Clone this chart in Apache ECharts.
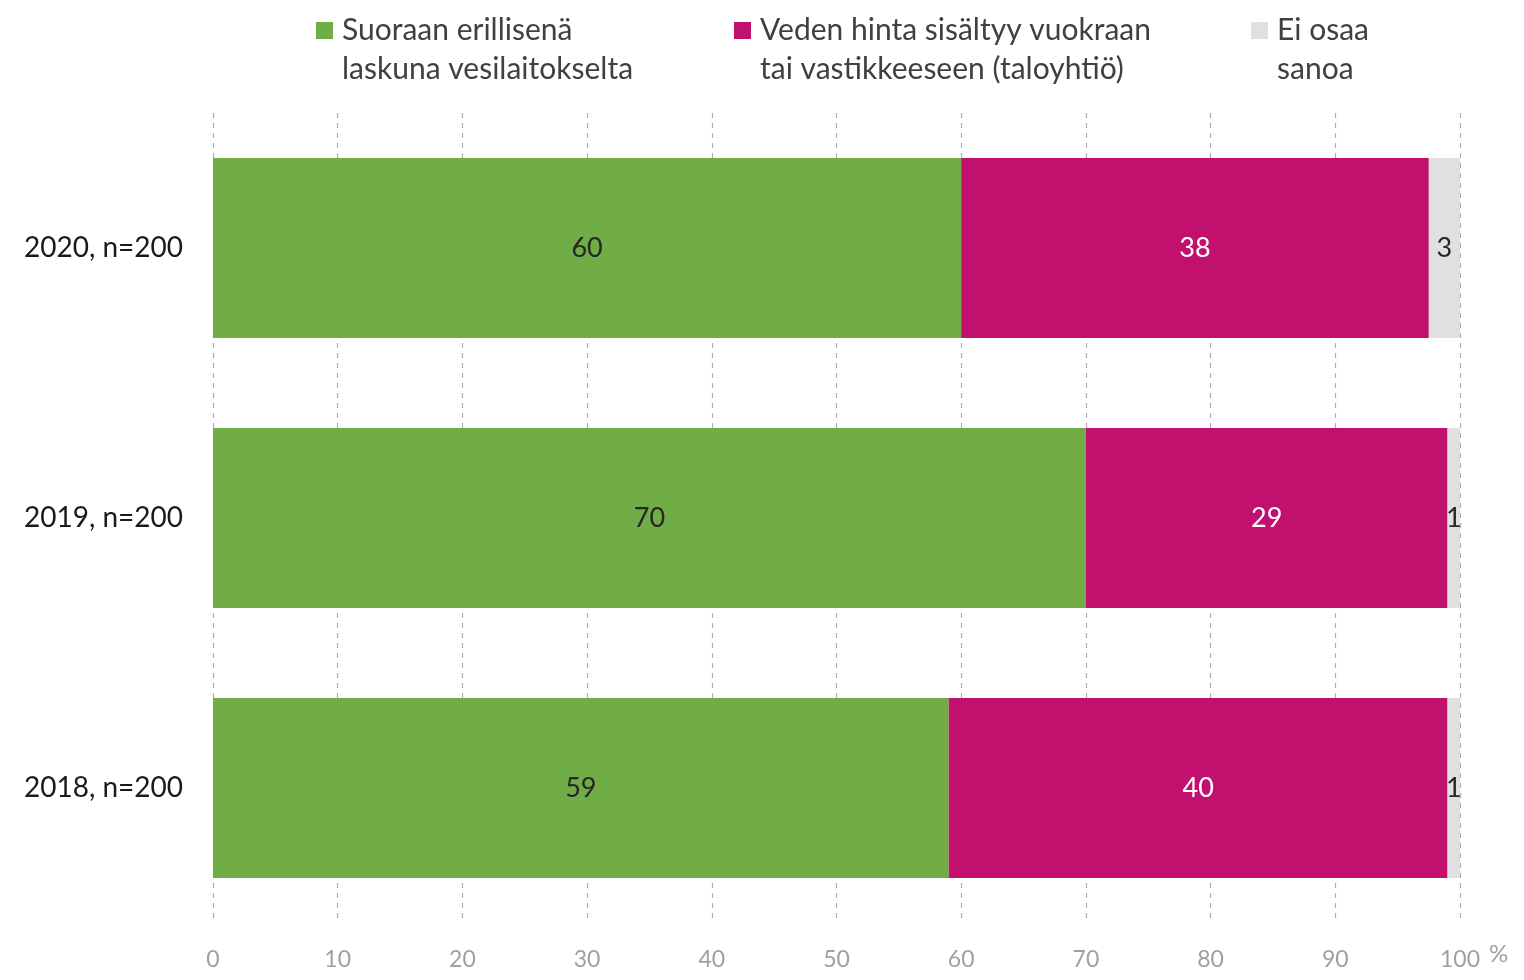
<!DOCTYPE html>
<html>
<head>
<meta charset="utf-8">
<script src="https://cdn.jsdelivr.net/npm/echarts@6/dist/echarts.min.js"></script>
<style>
  html, body { margin: 0; padding: 0; background: #ffffff; }
  #chart { width: 1524px; height: 980px; }
</style>
</head>
<body>
<div id="chart"></div>
<script>
const categories = ['2018, n=200', '2019, n=200', '2020, n=200'];
const seriesNames = [
  'Suoraan erillisenä\nlaskuna vesilaitokselta',
  'Veden hinta sisältyy vuokraan\ntai vastikkeeseen (taloyhtiö)',
  'Ei osaa\nsanoa'
];
const directBill = [59, 70, 60];
const includedInRent = [40, 29, 37.5];
const dontKnow = [1, 1, 2.5];
const xTicks = [0, 10, 20, 30, 40, 50, 60, 70, 80, 90, 100];

const FONT = 'Lato, "Noto Sans", sans-serif';
const colors = ['#70AD47', '#C2106F', '#E0E0E0'];
const labelColors = ['#262626', '#ffffff', '#262626'];
const values = [directBill, includedInRent, dontKnow];

const chart = echarts.init(document.getElementById('chart'), null, { renderer: 'canvas' });

const legendLefts = [316, 734, 1251];
// square marker at the top-left, with an invisible point extending the box so the
// marker lines up with the first line of the two-line legend text
const legendIcon = 'path://M0,0L17,0L17,17L0,17ZM21,56L21,56';

const option = {
  backgroundColor: '#ffffff',
  animation: false,
  textStyle: { fontFamily: FONT },
  legend: seriesNames.map((name, i) => ({
    data: [name],
    left: legendLefts[i],
    top: 11,
    padding: 0,
    itemWidth: 21,
    itemHeight: 56,
    itemGap: 0,
    icon: legendIcon,
    selectedMode: false,
    textStyle: {
      fontFamily: FONT,
      fontSize: 30,
      color: '#404040',
      lineHeight: 39
    }
  })),
  grid: { left: 213, right: 64, top: 113, bottom: 57, containLabel: false },
  xAxis: {
    type: 'value',
    min: 0,
    max: 100,
    interval: 10,
    axisLine: { show: false },
    axisTick: { show: false },
    axisLabel: {
      color: '#A0A0A0',
      fontSize: 23,
      fontFamily: FONT,
      margin: 25,
      formatter: v => xTicks.includes(v) ? String(v) : ''
    },
    splitLine: {
      show: true,
      lineStyle: { color: '#B0B0B0', type: [5, 5], width: 1.2 }
    }
  },
  yAxis: {
    type: 'category',
    data: categories,
    axisLine: { show: false },
    axisTick: { show: false },
    axisLabel: {
      color: '#1a1a1a',
      fontSize: 28,
      fontFamily: FONT,
      margin: 30
    }
  },
  graphic: [{
    type: 'text',
    left: 1489,
    top: 942,
    style: { text: '%', fill: '#A0A0A0', font: '24px ' + FONT }
  }],
  series: seriesNames.map((name, i) => ({
    name: name,
    type: 'bar',
    stack: 'total',
    barWidth: 180,
    data: values[i],
    itemStyle: { color: colors[i] },
    label: {
      show: true,
      position: 'inside',
      color: labelColors[i],
      fontSize: 27,
      fontFamily: FONT,
      formatter: p => String(Math.round(p.value))
    }
  }))
};

chart.setOption(option);
</script>
</body>
</html>
